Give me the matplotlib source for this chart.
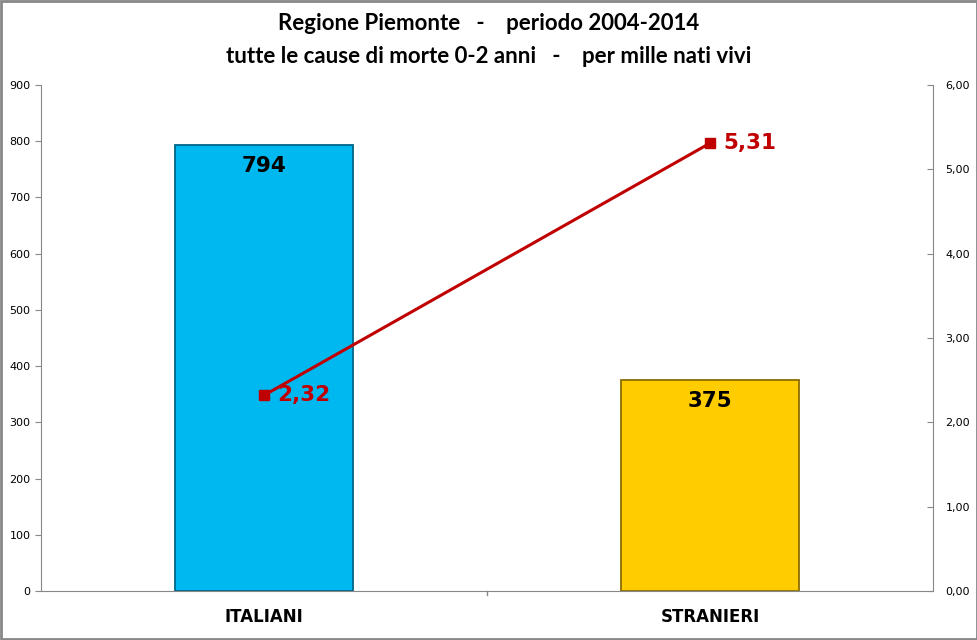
import matplotlib.pyplot as plt
import numpy as np

categorie = ['ITALIANI', 'STRANIERI']
decessi = [794, 375]
tasso = [2.32, 5.31]
tasso_lbl = ['2,32', '5,31']

fig = plt.figure(figsize=(9.78, 6.4), dpi=100)
ax = fig.add_axes([0.0419, 0.0766, 0.9121, 0.7906])

x = np.arange(len(categorie))
colori = ['#00B8F0', '#FFCC00']
bordi = ['#00668A', '#8A6E00']
ax.bar(x, decessi, width=0.4, color=colori, edgecolor=bordi, linewidth=1.3, zorder=2)
for xi, v in zip(x, decessi):
    ax.text(xi, v - 20, str(v), ha='center', va='top', fontsize=15.5,
            fontweight='bold', family='DejaVu Sans', zorder=4)

ax.set_xlim(-0.5, 1.5)
ax.set_ylim(0, 900)
ax.set_yticks(range(0, 901, 100))
ax.set_xticks(x)
ax.set_xticklabels(categorie, fontsize=12, fontweight='bold', family='DejaVu Sans')
ax.tick_params(axis='x', length=0, pad=12)
ax.tick_params(axis='y', labelsize=8, length=4, color='#888888')
# separatore tra categorie
ax.plot([0.5, 0.5], [0, -8], color='#888888', lw=1, clip_on=False)
for s in ['top', 'right']:
    ax.spines[s].set_visible(False)
for s in ['left', 'bottom']:
    ax.spines[s].set_color('#888888')

ax2 = ax.twinx()
ax2.set_ylim(0, 6)
ax2.set_yticks(range(0, 7))
ax2.set_yticklabels([f'{v},00' for v in range(0, 7)])
ax2.tick_params(axis='y', labelsize=8, length=4, direction='in', color='#888888', pad=9)
for s in ['top', 'left', 'bottom']:
    ax2.spines[s].set_visible(False)
ax2.spines['right'].set_color('#888888')
ax2.plot(x, tasso, color='#C00000', lw=2.2, marker='s', markersize=7, zorder=5)
for xi, v, t in zip(x, tasso, tasso_lbl):
    ax2.text(xi + 0.03, v, t, ha='left', va='center', fontsize=15.5,
             fontweight='bold', color='#C00000', family='DejaVu Sans')

fig.text(0.5, 0.963, 'Regione Piemonte   -    periodo 2004-2014', ha='center', va='center',
         fontsize=16, fontweight='bold', family='Lato')
fig.text(0.5, 0.912, 'tutte le cause di morte 0-2 anni   -    per mille nati vivi', ha='center',
         va='center', fontsize=16, fontweight='bold', family='Lato')

fig.patches.append(plt.Rectangle((0.001, 0.001), 0.998, 0.997, transform=fig.transFigure,
                                 fill=False, edgecolor='#888888', lw=2))

fig.savefig('out.png', dpi=100)
